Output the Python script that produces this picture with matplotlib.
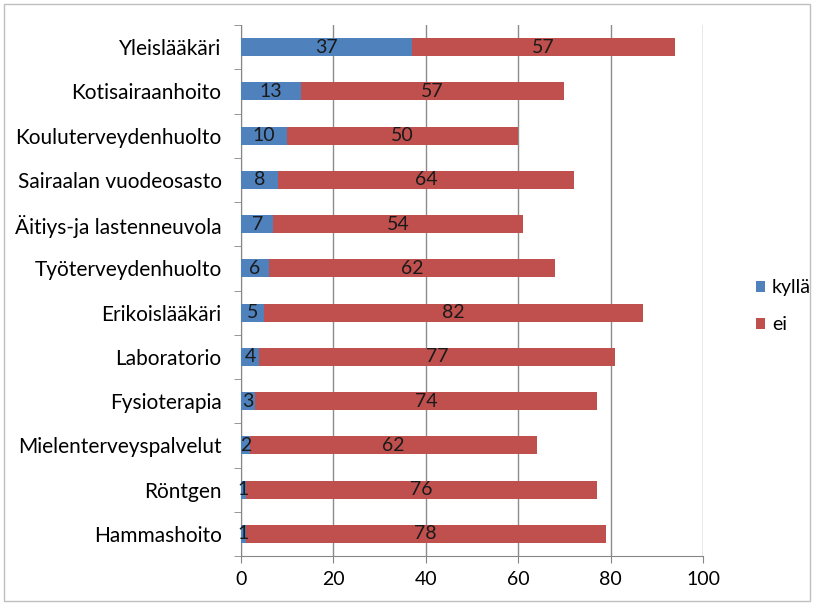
import matplotlib.pyplot as plt
from matplotlib.patches import Rectangle

categories = ["Yleislääkäri", "Kotisairaanhoito", "Kouluterveydenhuolto",
              "Sairaalan vuodeosasto", "Äitiys-ja lastenneuvola", "Työterveydenhuolto",
              "Erikoislääkäri", "Laboratorio", "Fysioterapia",
              "Mielenterveyspalvelut", "Röntgen", "Hammashoito"]
kylla = [37, 13, 10, 8, 7, 6, 5, 4, 3, 2, 1, 1]
ei = [57, 57, 50, 64, 54, 62, 82, 77, 74, 62, 76, 78]

blue = "#4F81BD"
red = "#C0504D"

plt.rcParams['font.family'] = ['Lato', 'DejaVu Sans']
plt.rcParams['font.size'] = 15

fig = plt.figure(figsize=(8.16, 6.05), dpi=100)
ax = fig.add_axes([241 / 816, 1 - 556 / 605, 462 / 816, 531 / 605])

# reversed so the first category ends up on top
y = list(range(len(categories)))[::-1]
h = 0.41
b1 = ax.barh(y, kylla, height=h, color=blue, label="kyllä", zorder=3)
b2 = ax.barh(y, ei, left=kylla, height=h, color=red, label="ei", zorder=3)

for yi, k, e in zip(y, kylla, ei):
    ax.text(k / 2, yi, str(k), ha="center", va="center", color="#1a1a1a", zorder=4, fontsize=14)
    ax.text(k + e / 2, yi, str(e), ha="center", va="center", color="#1a1a1a", zorder=4, fontsize=14)

ax.set_xlim(0, 100)
ax.set_ylim(-0.5, len(categories) - 0.5)
ax.set_xticks([0, 20, 40, 60, 80, 100])
ax.set_yticks(y)
ax.set_yticklabels(categories)
ax.tick_params(axis="y", length=0, pad=14)
ax.tick_params(axis="x", length=5, color="#868686", pad=6, labelsize=14)
# tick marks on category boundaries
ax.set_yticks([i - 0.5 for i in range(len(categories) + 1)], minor=True)
ax.tick_params(axis="y", which="minor", length=5, color="#868686")

ax.grid(axis="x", color="#8c8c8c", linewidth=1, zorder=0)
for s in ["top", "right"]:
    ax.spines[s].set_visible(False)
for s in ["left", "bottom"]:
    ax.spines[s].set_color("#868686")

fig.legend(handles=[b1, b2], loc="upper left", bbox_to_anchor=(738 / 816, 1 - 262 / 605),
           frameon=False, handlelength=0.5, handleheight=0.5, handletextpad=0.35,
           labelspacing=1.0, fontsize=14)

fig.patches.append(Rectangle((4 / 816, 4 / 605), 806 / 816, 597 / 605, transform=fig.transFigure,
                             fill=False, edgecolor="#bfbfbf", linewidth=1))

fig.savefig("out.png", dpi=100)
